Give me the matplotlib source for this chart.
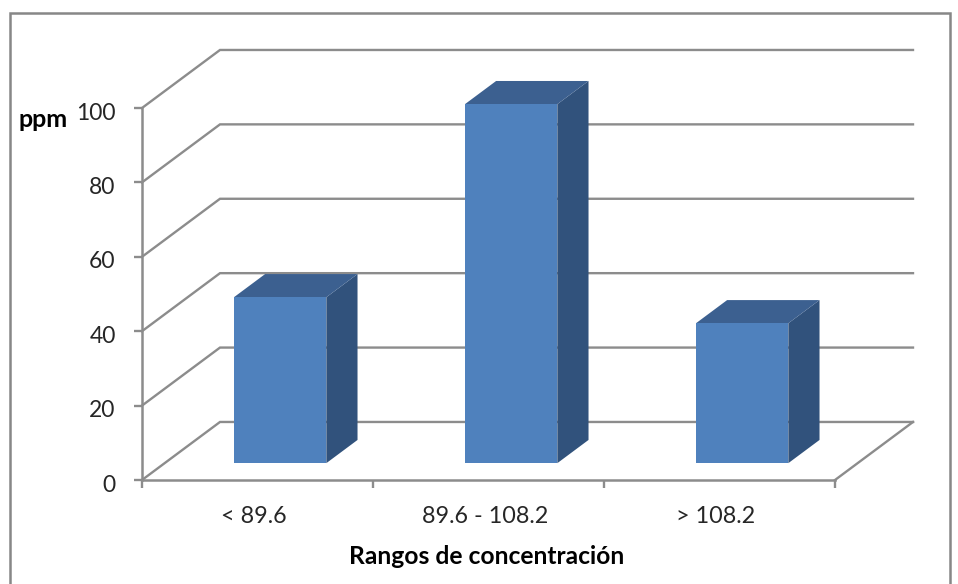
import matplotlib
matplotlib.use("Agg")
from matplotlib import pyplot as plt
from matplotlib.patches import Polygon, Rectangle
from matplotlib.transforms import ScaledTranslation

categories = ["< 89.6", "89.6 - 108.2", "> 108.2"]
values = [44.6, 96.5, 37.6]
y_ticks = [0, 20, 40, 60, 80, 100]

W, H = 958, 584
GRID = "#8c8c8c"
FRONT = "#4f81bd"
TOP = "#3c6090"
SIDE = "#31527c"

# depth of the box and where the bars sit in it, in data units
depth_x = 78 / 231
depth_y = 15.6
bar_pos = 0.29
bar_depth = 0.40
bar_width = 0.40

plt.rcParams['font.family'] = ['Lato', 'DejaVu Sans']
fig = plt.figure(figsize=(W / 100, H / 100), dpi=100)
fig.add_artist(Rectangle((10 / W, -0.01), 940 / W, 1.01 - 13 / H, transform=fig.transFigure,
                         fill=False, edgecolor="#878787", linewidth=1.8))

ax = fig.add_axes([142 / W, 1 - 480 / H, 693 / W, 372 / H])
ax.set_xlim(0, 3)
ax.set_ylim(0, 100)
ax.patch.set_visible(False)
ax.spines['top'].set_color('none')
ax.spines['right'].set_color('none')
for s in ['left', 'bottom']:
    ax.spines[s].set_color(GRID)
    ax.spines[s].set_linewidth(1.8)

# walls and floor
for t in y_ticks:
    ax.plot([0, depth_x, 3 + depth_x], [t, t + depth_y, t + depth_y],
            color=GRID, lw=1.7, clip_on=False, zorder=1, solid_joinstyle='miter')
ax.plot([3, 3 + depth_x], [0, depth_y], color=GRID, lw=1.7, clip_on=False, zorder=1)

# bars
for i, v in enumerate(values):
    x0 = i + 0.5 + bar_pos * depth_x - bar_width / 2
    x1 = x0 + bar_width
    y0 = bar_pos * depth_y
    y1 = y0 + v
    ox = bar_depth * depth_x
    oy = bar_depth * depth_y
    ax.add_patch(Polygon([(x1, y0), (x1 + ox, y0 + oy), (x1 + ox, y1 + oy), (x1, y1)],
                         facecolor=SIDE, edgecolor='none', clip_on=False, zorder=3))
    ax.add_patch(Polygon([(x0, y1), (x1, y1), (x1 + ox, y1 + oy), (x0 + ox, y1 + oy)],
                         facecolor=TOP, edgecolor='none', clip_on=False, zorder=3))
    ax.add_patch(Polygon([(x0, y0), (x1, y0), (x1, y1), (x0, y1)],
                         facecolor=FRONT, edgecolor='none', clip_on=False, zorder=4))

ax.set_xticks([0, 1, 2, 3])
ax.set_xticklabels([])
ax.set_yticks(y_ticks)
ax.tick_params(axis='both', color=GRID, width=1.7, length=6, labelsize=16.5,
               labelcolor="#262626", pad=13)
# the y labels sit a little below their ticks
shift = ScaledTranslation(0, -3 / 100, fig.dpi_scale_trans)
for lab in ax.get_yticklabels():
    lab.set_transform(lab.get_transform() + shift)
for i, c in enumerate(categories):
    ax.annotate(c, (i + 0.5, 0), xytext=(-2.5, -26), xycoords='data', textcoords='offset points',
                ha='center', va='center', fontsize=16.8, color="#262626")

fig.text(19 / W, 1 - 120 / H, "ppm", fontsize=18, fontweight='bold', va='center', color="black")
fig.text(487 / W, 1 - 557 / H, "Rangos de concentración", fontsize=17.7, fontweight='bold',
         ha='center', va='center', color="black")

fig.savefig("out.png", dpi=100)
